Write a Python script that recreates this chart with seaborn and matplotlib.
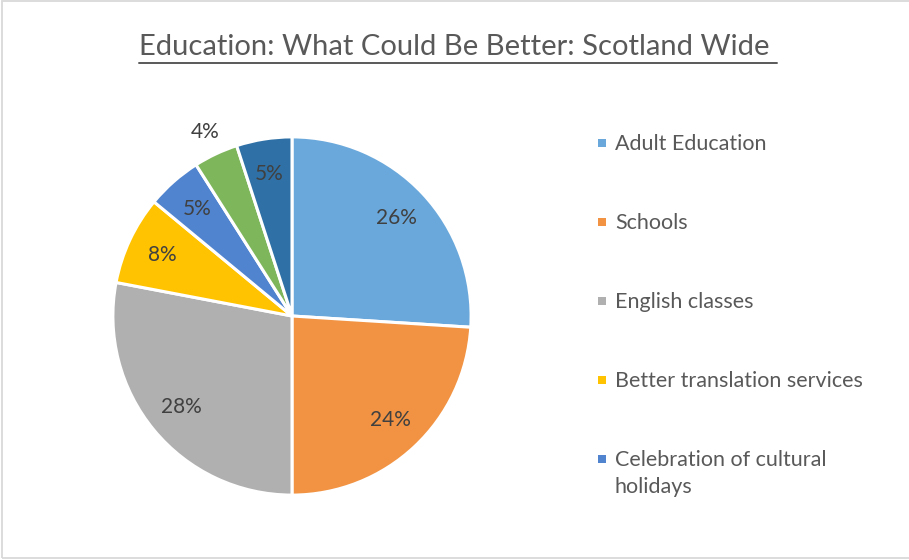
import matplotlib
matplotlib.use("Agg")
import matplotlib.pyplot as plt
from matplotlib.patches import Rectangle
from matplotlib.lines import Line2D
import numpy as np
import seaborn as sns

sns.set_theme(style="white")
plt.rcParams["font.family"] = ["Lato", "DejaVu Sans"]

# Share of responses per improvement area (percent)
legend_labels = [
    "Adult Education",
    "Schools",
    "English classes",
    "Better translation services",
    "Celebration of cultural\nholidays",
]
values = [26, 24, 28, 8, 5, 4, 5]
colors = ["#6AA8DB", "#F19342", "#B0B0B0", "#FFC301", "#5084CE", "#7EB65C", "#2F71A6"]

TEXT = "#404040"

W, H = 909, 560
fig = plt.figure(figsize=(W / 100, H / 100), dpi=100)

# chart frame
fig.add_artist(Rectangle((2 / W, 2 / H), (W + 5) / W, (H - 3) / H, transform=fig.transFigure,
                         fill=False, edgecolor="#D9D9D9", linewidth=1.3))

# pie axes: 180 px per data unit, centred on the pie
cx, cy, R = 292, 316, 180
ax = fig.add_axes([(cx - R) / W, (H - cy - R) / H, 2 * R / W, 2 * R / H])
wedges, _, autotexts = ax.pie(
    values, colors=colors, startangle=90, counterclock=False, radius=0.995,
    autopct=lambda p: f"{p:.0f}%", pctdistance=0.8,
    wedgeprops=dict(edgecolor="white", linewidth=2.2),
    textprops=dict(color=TEXT, fontsize=15),
)
ax.set_xlim(-1, 1)
ax.set_ylim(-1, 1)
ax.set_aspect("equal")
ax.axis("off")

# the thin 4% slice gets its label just outside the rim
w = wedges[5]
mid = np.deg2rad((w.theta1 + w.theta2) / 2)
autotexts[5].set_position((1.13 * np.cos(mid), 1.13 * np.sin(mid)))

# title with underline
title = fig.text(458 / W, 1 - 47 / H, "Education: What Could Be Better: Scotland Wide ",
                 ha="center", va="center", fontsize=21, color="#595959")
fig.canvas.draw()
bb = title.get_window_extent().transformed(fig.transFigure.inverted())
fig.add_artist(Line2D([bb.x0, bb.x1], [1 - 63 / H, 1 - 63 / H], transform=fig.transFigure,
                      color="#595959", linewidth=1.4))

# legend: small square swatches beside each label
for i, lab in enumerate(legend_labels):
    y = 143 + 79 * i
    fig.add_artist(Rectangle((598 / W, 1 - (y + 4) / H), 8 / W, 8 / H, transform=fig.transFigure,
                             facecolor=colors[i], edgecolor="none"))
    fig.text(615 / W, 1 - (y - 9) / H, lab, ha="left", va="top", fontsize=15.5,
             color="#595959", linespacing=1.45)

fig.savefig("out.png", dpi=100, facecolor="white")
